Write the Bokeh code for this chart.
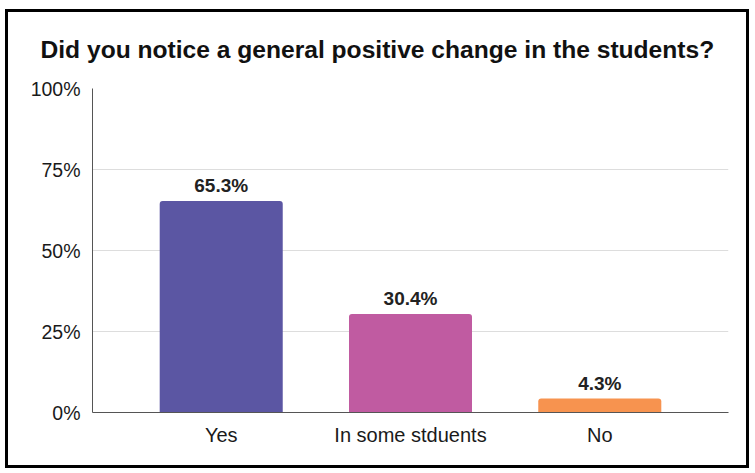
from bokeh.plotting import figure
from bokeh.models import (ColumnDataSource, FactorRange, Range1d, LabelSet,
                          FixedTicker, PrintfTickFormatter)
from bokeh.core.properties import value
from bokeh.embed import file_html
from bokeh.resources import INLINE

title_text = "Did you notice a general positive change in the students?"
categories = ["Yes", "In some stduents", "No"]
values = [65.3, 30.4, 4.3]
value_labels = ["65.3%", "30.4%", "4.3%"]
colors = ["#5b56a3", "#c05ba1", "#f7934f"]
y_ticks = [0, 25, 50, 75, 100]

FONT = "Liberation Sans"

source = ColumnDataSource(dict(cat=categories, val=values, lab=value_labels, color=colors))

p = figure(width=738, height=453, output_backend="svg", toolbar_location=None,
           title=title_text,
           x_range=FactorRange(*categories, range_padding=0.12, range_padding_units="percent"),
           y_range=Range1d(0, 100),
           min_border_left=84, min_border_right=24, min_border_top=0, min_border_bottom=59,
           margin=(9, 0, 0, 5))
p.styles = {"border": "3px solid black", "box-sizing": "content-box"}
p.outline_line_color = None
p.background_fill_color = "white"
p.border_fill_color = "white"

p.title.align = "left"
p.title.offset = -52
p.title.vertical_align = "top"
p.title.text_font = FONT
p.title.text_font_size = "24.6px"
p.title.text_font_style = "bold"
p.title.text_color = "#111111"
p.title.standoff = 47

p.vbar(x="cat", top="val", width=0.65, fill_color="color", line_color=None, source=source,
       border_radius=[3, 3, 0, 0])

labels = LabelSet(x="cat", y="val", text="lab", source=source, y_offset=5,
                  text_align="center", text_baseline="bottom",
                  text_font=value(FONT), text_font_size=value("19px"),
                  text_font_style="bold", text_color="#222222")
p.add_layout(labels)

# axes
p.yaxis.ticker = FixedTicker(ticks=y_ticks)
p.yaxis.formatter = PrintfTickFormatter(format="%d%%")
p.yaxis.major_tick_line_color = None
p.yaxis.minor_tick_line_color = None
p.yaxis.axis_line_color = "#555555"
p.yaxis.major_label_standoff = 6
p.yaxis.major_label_text_font = FONT
p.yaxis.major_label_text_font_size = "19.5px"
p.yaxis.major_label_text_color = "#1a1a1a"

p.xaxis.major_tick_line_color = None
p.xaxis.minor_tick_line_color = None
p.xaxis.axis_line_color = "#555555"
p.xaxis.major_label_standoff = 5
p.xaxis.major_label_text_font = FONT
p.xaxis.major_label_text_font_size = "20px"
p.xaxis.major_label_text_color = "#1a1a1a"

p.xgrid.grid_line_color = None
p.ygrid.grid_line_color = "#dddddd"

open("out.html", "w").write(file_html(p, INLINE))
